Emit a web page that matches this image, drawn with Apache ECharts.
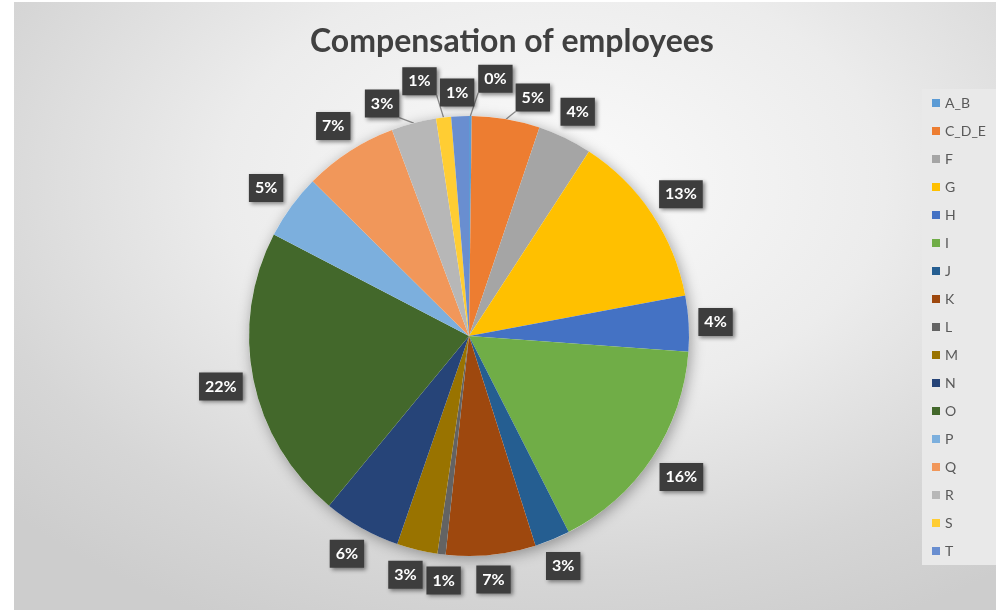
<!DOCTYPE html>
<html>
<head>
<meta charset="utf-8">
<script src="https://cdn.jsdelivr.net/npm/echarts@6/dist/echarts.min.js"></script>
<style>
html,body{margin:0;padding:0;background:#ffffff;width:996px;height:610px;overflow:hidden;}
#chart{position:absolute;left:14px;top:2px;width:982px;height:608px;
background:radial-gradient(ellipse 75% 80% at 55% 30%, #fbfbfb 0%, #ececec 45%, #d6d6d6 80%, #cdcdcd 100%);}
</style>
</head>
<body>
<div id="chart"></div>
<script>
const categories = ['A_B','C_D_E','F','G','H','I','J','K','L','M','N','O','P','Q','R','S','T'];
const values = [0.2, 5.0, 4.0, 12.9, 4.1, 16.4, 2.6, 6.6, 0.6, 3.0, 5.7, 21.7, 4.8, 6.9, 3.3, 1.1, 1.3];
const colors = ['#5B9BD5','#ED7D31','#A5A5A5','#FFC000','#4472C4','#70AD47','#255E91','#9E480E','#636363','#997300','#264478','#43682B','#7CAFDD','#F1975A','#B7B7B7','#FFCD33','#698ED0'];
const titleText = 'Compensation of employees';

// layout constants
const CX = 455, CY = 334, R0 = 220, GAP = 9;
const LFONT = 16, LPADX = 6, LPADY = 6, LH = 28;
const TITLE_CX = 498, TITLE_FONT = 32;

const total = values.reduce((a,b)=>a+b,0);
const labelText = values.map(v => Math.round(v/total*100) + '%');

const mctx = document.createElement('canvas').getContext('2d');
mctx.font = 'bold ' + LFONT + 'px Lato';
const boxW = labelText.map(t => mctx.measureText(t).width + 2*LPADX);
mctx.font = 'bold ' + TITLE_FONT + 'px Lato';
const titleW = mctx.measureText(titleText).width;

let cum = 0;
const natAng = values.map(v => { const a = (cum + v/2)/total*2*Math.PI; cum += v; return a; });

function placeAt(i, a, extra) {
  const half = boxW[i]/2*Math.abs(Math.sin(a)) + LH/2*Math.abs(Math.cos(a));
  const d = R0 + GAP + half + extra;
  return [CX + d*Math.sin(a), CY - d*Math.cos(a)];
}
function overlap(p, q, i, j) {
  return Math.abs(p[0]-q[0]) < (boxW[i]+boxW[j])/2 + 3 && Math.abs(p[1]-q[1]) < LH + 3;
}
function norm(d){ while(d > Math.PI) d -= 2*Math.PI; while(d <= -Math.PI) d += 2*Math.PI; return d; }

const ang = natAng.slice();
const ext = values.map(()=>0);
for (let it = 0; it < 3000; it++) {
  let any = false;
  const pos = ang.map((a,i)=>placeAt(i,a,ext[i]));
  for (let i = 0; i < ang.length; i++) {
    for (let j = i+1; j < ang.length; j++) {
      if (overlap(pos[i], pos[j], i, j)) {
        any = true;
        const s = norm(natAng[j] - natAng[i]) >= 0 ? 1 : -1;
        ang[i] -= s*0.002; ang[j] += s*0.002;
        if (values[i] < values[j]) ext[i] += 0.1; else ext[j] += 0.1;
      }
    }
  }
  if (!any) break;
}
const labelPos = ang.map((a,i)=>placeAt(i,a,ext[i]));
const natPos = natAng.map((a,i)=>placeAt(i,a,0));
const moved = labelPos.map((p,i)=>Math.hypot(p[0]-natPos[i][0], p[1]-natPos[i][1]) > 10);

function linePoints(i) {
  const a = natAng[i];
  const p0 = [CX + R0*Math.sin(a), CY - R0*Math.cos(a)];
  const c = labelPos[i];
  const p2 = [Math.max(c[0]-boxW[i]/2, Math.min(c[0]+boxW[i]/2, p0[0])),
              Math.max(c[1]-LH/2, Math.min(c[1]+LH/2, p0[1]))];
  return [p0, [(p0[0]+p2[0])/2, (p0[1]+p2[1])/2], p2];
}

const chart = echarts.init(document.getElementById('chart'), null, {renderer:'canvas'});
chart.setOption({
  animation:false,
  title:{
    text:titleText, left:Math.round(TITLE_CX - titleW/2) - 5, top:19,
    textStyle:{fontFamily:'Lato', fontWeight:'bold', fontSize:TITLE_FONT, color:'#404040'}
  },
  legend:{
    data:categories, orient:'vertical', left:908, top:87,
    backgroundColor:'#e9e9e9', padding:[7,30,7,10],
    itemWidth:8, itemHeight:8, itemGap:14, icon:'rect',
    textStyle:{fontFamily:'Lato', fontSize:14, color:'#595959', lineHeight:14}
  },
  series:[
    {
      type:'pie', silent:true, center:[CX,CY], radius:R0,
      data:[{value:1, name:'_shadow'}],
      label:{show:false}, labelLine:{show:false},
      itemStyle:{color:'#ffffff', shadowBlur:14, shadowColor:'rgba(0,0,0,0.35)', shadowOffsetX:2, shadowOffsetY:3}
    },
    {
      type:'pie', center:[CX,CY], radius:R0, startAngle:90, clockwise:true,
      avoidLabelOverlap:false,
      data:categories.map((n,i)=>({name:n, value:values[i], itemStyle:{color:colors[i]},
        labelLine:{show:moved[i]}})),
      itemStyle:{borderWidth:0},
      label:{
        show:true, position:'outside',
        formatter:p=>labelText[p.dataIndex],
        fontFamily:'Lato', fontWeight:'bold', fontSize:LFONT, lineHeight:16, color:'#ffffff',
        backgroundColor:'#3d3d3d', padding:[LPADY,LPADX,LPADY,LPADX],
        shadowColor:'rgba(0,0,0,0.45)', shadowBlur:4, shadowOffsetX:2, shadowOffsetY:2
      },
      labelLine:{show:true, length:12, length2:4, lineStyle:{color:'#8c8c8c', width:1.3}},
      labelLayout:function(params){
        const i = params.dataIndex;
        return {x:labelPos[i][0], y:labelPos[i][1], align:'center', verticalAlign:'middle',
                labelLinePoints: linePoints(i)};
      }
    }
  ]
});
</script>
</body>
</html>
